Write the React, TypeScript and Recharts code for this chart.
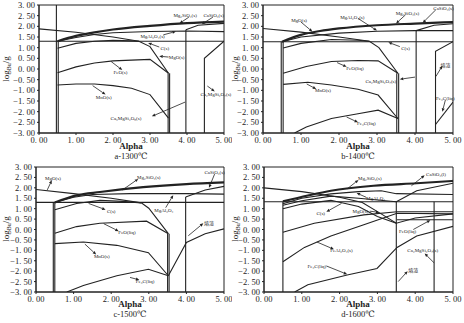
import React from 'react';
import { LineChart, Line, XAxis, YAxis, ReferenceArea, ReferenceLine, ReferenceDot } from 'recharts';

type P = [number, number][];
// [text, labelX, labelY, fromX, fromY, toX, toY]
type Note = [string, number, number, number, number, number, number];

const INK = '#222';
const SERIF = '"Liberation Serif", "DejaVu Serif", "Noto Sans CJK SC", serif';

const xTicks = [0, 1, 2, 3, 4, 5];
const yTicks = [-3, -2.5, -2, -1.5, -1, -0.5, 0, 0.5, 1, 1.5, 2, 2.5, 3];

// ---- a - 1300
const aH13: P = [[0, 1.3], [5, 1.3]];
const aMgO: P = [[0, 1.88], [1, 1.72], [2, 1.5], [2.7, 1.3], [3, 1.05], [3.5, -0.2]];
const aC: P = [[0.5, 0.97], [1, 1.2], [1.5, 1.3], [2, 1.35], [2.5, 1.32], [2.7, 1.3]];
const aMg2SiO4: P = [[0.5, 1.3], [1, 1.55], [1.5, 1.72], [2, 1.85], [3, 2.02], [4, 2.15], [5, 2.22]];
const aMgAl2O4: P = [[0.5, 1.3], [1, 1.48], [1.5, 1.62], [2, 1.7], [3, 1.76], [4, 1.78], [5, 1.75]];
const aCaSiO3: P = [[3.97, 1.84], [4.3, 2.05], [5, 2.14]];
const aV05: P = [[0.47, 3], [0.47, -3]];
const aV05b: P = [[0.52, 1.3], [0.52, -3]];
const aFeO: P = [[0.5, -0.18], [1, 0.1], [1.5, 0.28], [2, 0.38], [3, 0.45], [3.5, -0.2]];
const aMnO: P = [[0.5, -0.75], [1, -0.7], [1.5, -0.7], [2, -0.78], [2.5, -0.9], [3, -1.2], [3.5, -2.3]];
const aV35: P = [[3.49, -0.2], [3.49, -3]];
const aV35b: P = [[3.53, -0.2], [3.53, -3]];
const aV40: P = [[3.97, 1.84], [3.97, -3]];
const aCa2: P = [[4.47, -3], [4.47, 0.5], [5, 1.3]];
const aNotes: Note[] = [
  ['Mg₂SiO₄(s)', 3.95, 2.52, 4.05, 2.43, 3.8, 2.14],
  ['CaSiO₃(s)', 4.72, 2.52, 4.7, 2.43, 4.4, 2.1],
  ['MgAl₂O₄(s)', 3.07, 1.57, 3.36, 1.6, 3.7, 1.76],
  ['C(s)', 3.4, 0.98, 3.25, 1.03, 2.95, 1.22],
  ['MgO(s)', 3.72, 0.55, 3.5, 0.56, 3.25, 0.6],
  ['FeO(s)', 2.2, -0.15, 1.95, 0.35, 2.25, -0.05],
  ['MnO(s)', 1.75, -1.3, 1.45, -0.78, 1.8, -1.2],
  ['Ca₃MgSi₂O₈(s)', 2.35, -2.3, 3.95, -1.55, 3.05, -2.22],
  ['Ca₂MgSi₂O₇(s)', 4.78, -1.15, 4.55, -0.8, 4.75, -1.05],
];

// ---- b - 1400
const bH13: P = [[0, 1.28], [5, 1.28]];
const bMgO: P = [[0, 1.9], [1, 1.73], [2, 1.5], [2.8, 1.3], [3.05, 1.0], [3.55, -0.2]];
const bC: P = [[0.53, 0.98], [1, 1.2], [1.8, 1.38], [2.5, 1.35], [2.8, 1.3]];
const bMg2SiO4: P = [[0.5, 1.28], [1, 1.6], [1.5, 1.78], [2, 1.9], [3, 2.05], [4, 2.13], [5, 2.2]];
const bMgAl2O4: P = [[0.5, 1.28], [1, 1.5], [2, 1.68], [3, 1.77], [4, 1.8], [5, 1.8]];
const bCaSiO3: P = [[4.03, 1.8], [4.5, 2.05], [5, 2.12]];
const bV05: P = [[0.48, 1.28], [0.48, -3]];
const bV05b: P = [[0.53, 1.28], [0.53, -3]];
const bFeO: P = [[0.53, -0.2], [1.14, 0.12], [1.8, 0.35], [2.5, 0.4], [3.03, 0.38], [3.55, -0.2]];
const bMnO: P = [[0.53, -0.72], [1.18, -0.62], [1.8, -0.75], [2.5, -0.95], [3.03, -1.22], [3.55, -2.32]];
const bFe3C: P = [[0.83, -3], [1.14, -2.72], [1.8, -2.32], [2.5, -2.1], [3.03, -1.93], [3.55, -2.32]];
const bV35: P = [[3.52, -0.2], [3.52, -3]];
const bV35b: P = [[3.57, -0.2], [3.57, -3]];
const bV40: P = [[4.03, 1.8], [4.03, -3]];
const bV45: P = [[4.54, -3], [4.54, 0.83], [5, 1.28]];
const bFe3Cr: P = [[4.54, -2.6], [5, -1.55]];
const bNotes: Note[] = [
  ['MgO(s)', 0.95, 2.28, 1.0, 2.2, 1.3, 1.75],
  ['MgAl₂O₄(s)', 2.35, 2.45, 2.5, 2.37, 3.0, 1.8],
  ['Mg₂SiO₄(s)', 3.8, 2.62, 3.75, 2.54, 3.5, 2.13],
  ['CaSiO₃(s)', 4.75, 2.85, 4.55, 2.78, 4.2, 2.16],
  ['C(s)', 3.75, 0.98, 3.6, 1.05, 3.3, 1.25],
  ['FeO(liq)', 2.42, 0.05, 1.95, 0.3, 2.2, 0.1],
  ['Ca₂MgSi₂O₇(s)', 3.1, -0.55, 4.0, -0.38, 3.6, -0.48],
  ['MnO(s)', 1.58, -0.98, 1.15, -0.7, 1.4, -0.94],
  ['Fe₃C(liq)', 2.72, -2.55, 2.2, -2.25, 2.5, -2.5],
  ['熔渣', 4.8, 0.2, 4.55, -0.35, 4.72, 0.15],
  ['Fe₃C(liq)', 4.8, -1.35, 4.8, -1.45, 4.72, -2.0],
];

// ---- c - 1500
const cH13: P = [[0, 1.3], [5, 1.3]];
const cMgO: P = [[0, 1.92], [1, 1.72], [2, 1.5], [2.8, 1.28], [3.0, 1.02], [3.52, -0.2]];
const cC: P = [[0.5, 0.95], [1.08, 1.25], [1.7, 1.4], [2.3, 1.35], [2.8, 1.28]];
const cMg2SiO4: P = [[0.5, 1.3], [1.08, 1.64], [1.7, 1.8], [2.85, 2.03], [4, 2.18], [5, 2.26]];
const cMgAl2O4: P = [[0.5, 1.3], [1, 1.55], [1.5, 1.68], [2.5, 1.72], [4, 1.72], [5, 1.7]];
const cCaSiO3: P = [[3.98, 1.56], [4.5, 1.9], [5, 2.07]];
const cV05: P = [[0.46, 1.3], [0.46, -3]];
const cV05b: P = [[0.5, 1.3], [0.5, -3]];
const cFeO: P = [[0.5, -0.18], [1.08, 0.14], [1.7, 0.3], [2.94, 0.4], [3.52, -0.2]];
const cMnO: P = [[0.5, -0.68], [1.26, -0.6], [2.15, -0.76], [2.99, -1.11], [3.52, -2.22]];
const cFe3C: P = [[0.82, -3], [1.26, -2.69], [2.15, -2.22], [2.99, -1.91], [3.52, -2.22]];
const cV35: P = [[3.5, -0.2], [3.5, -3]];
const cV35b: P = [[3.54, -0.2], [3.54, -3]];
const cV40: P = [[3.98, 1.56], [3.98, -3]];
const cSlag: P = [[3.52, -2.22], [4.0, -0.62], [4.5, -0.2], [5, 0.03]];
const cNotes: Note[] = [
  ['MgO(s)', 0.45, 2.48, 0.3, 1.9, 0.42, 2.36],
  ['Mg₂SiO₄(s)', 3.0, 2.5, 2.3, 1.9, 2.72, 2.43],
  ['CaSiO₃(s)', 4.75, 2.75, 4.75, 2.66, 4.6, 2.0],
  ['C(s)', 2.0, 0.9, 1.4, 1.25, 1.85, 0.95],
  ['MgAl₂O₄', 3.4, 0.93, 3.45, 1.05, 3.65, 1.65],
  ['FeO(liq)', 2.42, -0.12, 1.8, 0.28, 2.2, -0.08],
  ['MnO(s)', 1.75, -1.28, 1.3, -0.7, 1.6, -1.2],
  ['Fe₃C(liq)', 2.9, -2.45, 2.5, -2.3, 2.75, -2.42],
  ['熔渣', 4.6, 0.33, 4.05, -0.3, 4.45, 0.3],
];

// ---- d - 1600
const dH13: P = [[0, 1.33], [5, 1.33]];
const dMgO: P = [[0, 2.0], [1, 1.82], [2, 1.55], [2.6, 1.3], [3.1, 0.75], [3.5, 0.3], [4, 0.55], [5, 0.75]];
const dC: P = [[0.5, 1.0], [1, 1.22], [1.77, 1.4], [2.5, 1.1], [3.0, 0.62], [3.5, 0.3]];
const dMg2SiO4: P = [[0.5, 1.35], [1.16, 1.63], [1.77, 1.86], [2.9, 2.1], [4.04, 2.22], [5, 2.33]];
const dMgAl2O4: P = [[0.5, 1.24], [1, 1.5], [1.77, 1.71], [2.5, 1.82], [3.1, 1.86], [3.5, 1.72], [5, 1.68]];
const dSpinel: P = [[0.5, 1.16], [1, 1.38], [1.77, 1.6], [2.5, 1.5], [3.5, 1.33]];
const dCaSiO3: P = [[3.5, 1.33], [4.04, 1.86], [5, 2.22]];
const dFeO: P = [[0.5, -0.13], [1.33, 0.3], [2.64, 0.7], [3.52, 0.85], [5, 0.85]];
const dFeAl2O4: P = [[0.5, -1.55], [1.07, -0.86], [1.77, -0.31], [2.64, 0.23], [3.52, 0.78], [5, 0.75]];
const dFe3C: P = [[0.81, -3], [1.16, -2.65], [2.2, -2.18], [2.99, -1.87], [3.52, -0.86], [4.04, -0.31], [5, 0.15]];
const dLow: P = [[3.52, 0.47], [5, 0.47]];
const dV05: P = [[0.5, 1.33], [0.5, -3]];
const dV35: P = [[3.5, 1.33], [3.5, -3]];
const dV45: P = [[4.5, 1.33], [4.5, -3]];
const dNotes: Note[] = [
  ['Mg₂SiO₄(s)', 2.8, 2.45, 2.2, 1.95, 2.5, 2.38],
  ['CaSiO₃(l)', 4.55, 2.65, 3.9, 2.1, 4.25, 2.6],
  ['MgAl₂O₄', 2.95, 1.52, 2.7, 1.55, 2.45, 1.75],
  ['C(s)', 1.5, 0.8, 2.05, 1.25, 1.65, 0.85],
  ['MgO(s)', 2.55, 0.87, 2.8, 0.88, 3.05, 0.82],
  ['FeO(liq)', 3.8, -0.08, 3.95, 0.0, 4.4, 0.45],
  ['FeAl₂O₄(s)', 2.05, -1.0, 1.4, -0.6, 1.85, -0.95],
  ['Fe₃C(liq)', 1.4, -1.75, 1.65, -1.75, 2.2, -2.15],
  ['Ca₂MgSi₂O₇(s)', 4.2, -1.0, 4.5, -1.6, 4.25, -1.15],
  ['熔渣', 3.95, -1.95, 3.55, -2.5, 3.8, -2.0],
];

const fmt = (v: number) => (v < 0 ? '−' : '') + Math.abs(v).toFixed(2).replace('.', '. ');
const toPts = (p: P) => p.map(([x, y]) => ({ x, y }));

const YTick = (p: any) => (
  <text x={p.x} y={p.y} dy={3} textAnchor="end" fontSize={8.5} fontFamily={SERIF} fill={INK}>
    {fmt(p.payload.value)}
  </text>
);

const XTick = (p: any) => (
  <text x={p.x} y={p.y} dy={6} textAnchor="middle" fontSize={8.5} fontFamily={SERIF} fill={INK}>
    {fmt(p.payload.value)}
  </text>
);

const ArrowShape = (p: any) => {
  const { x1, y1, x2, y2 } = p;
  const a = Math.atan2(y2 - y1, x2 - x1);
  const L = 3.5;
  const W = 1.5;
  const bx = x2 - L * Math.cos(a);
  const by = y2 - L * Math.sin(a);
  const pts = `${x2},${y2} ${bx - W * Math.sin(a)},${by + W * Math.cos(a)} ${bx + W * Math.sin(a)},${by - W * Math.cos(a)}`;
  return (
    <g>
      <line x1={x1} y1={y1} x2={bx} y2={by} stroke={INK} strokeWidth={0.8} />
      <polygon points={pts} fill={INK} />
    </g>
  );
};

interface PanelProps {
  left: number;
  top: number;
  margin: { top: number; right: number; left: number; bottom: number };
  lines: P[];
  thick: P[];
  notes: Note[];
}

const Panel = ({ left, top, margin, lines, thick, notes }: PanelProps) => (
  <div style={{ position: 'absolute', left, top }}>
    <LineChart width={232} height={161} margin={margin}>
      <XAxis
        type="number"
        dataKey="x"
        domain={[0, 5]}
        ticks={xTicks}
        interval={0}
        allowDataOverflow
        height={14}
        tickSize={2}
        stroke={INK}
        tick={<XTick />}
      />
      <YAxis
        type="number"
        domain={[-3, 3]}
        ticks={yTicks}
        interval={0}
        allowDataOverflow
        width={30}
        tickSize={2}
        stroke={INK}
        tick={<YTick />}
      />
      <ReferenceArea x1={0} x2={5} y1={-3} y2={3} fill="none" stroke={INK} strokeWidth={1} />
      {lines.map((p, i) => (
        <Line key={'l' + i} data={toPts(p)} dataKey="y" type="linear" dot={false} stroke={INK} strokeWidth={1.1} isAnimationActive={false} />
      ))}
      {thick.map((p, i) => (
        <Line key={'t' + i} data={toPts(p)} dataKey="y" type="monotone" dot={false} stroke={INK} strokeWidth={2.2} isAnimationActive={false} />
      ))}
      {notes.map((n, i) => (
        <ReferenceLine key={'a' + i} segment={[{ x: n[3], y: n[4] }, { x: n[5], y: n[6] }]} ifOverflow="visible" shape={ArrowShape} />
      ))}
      {notes.map((n, i) => (
        <ReferenceDot
          key={'n' + i}
          x={n[1]}
          y={n[2]}
          r={0}
          ifOverflow="visible"
          shape={(p: any) => (
            <text x={p.cx} y={p.cy} dy={2} textAnchor="middle" fontSize={5} fontFamily={SERIF} fill={INK}>
              {n[0]}
            </text>
          )}
        />
      ))}
    </LineChart>
  </div>
);

const captions = [
  { x: 131, y: 149, cap: 'a-1300℃', lx: 9, ly: 69 },
  { x: 358, y: 149, cap: 'b-1400℃', lx: 238, ly: 69 },
  { x: 130, y: 307, cap: 'c-1500℃', lx: 9, ly: 229 },
  { x: 358, y: 307, cap: 'd-1600℃', lx: 238, ly: 229 },
];

export default function App() {
  return (
    <div style={{ position: 'absolute', left: 0, top: 0, width: 464, height: 323, background: '#fff', overflow: 'hidden' }}>
      <Panel
        left={0}
        top={0}
        margin={{ top: 5, right: 8, left: 9, bottom: 14 }}
        lines={[aH13, aMgO, aC, aMgAl2O4, aCaSiO3, aV05, aV05b, aFeO, aMnO, aV35, aV35b, aV40, aCa2]}
        thick={[aMg2SiO4]}
        notes={aNotes}
      />
      <Panel
        left={232}
        top={0}
        margin={{ top: 5, right: 11, left: 1, bottom: 14 }}
        lines={[bH13, bMgO, bC, bMgAl2O4, bCaSiO3, bV05, bV05b, bFeO, bMnO, bFe3C, bV35, bV35b, bV40, bV45, bFe3Cr]}
        thick={[bMg2SiO4]}
        notes={bNotes}
      />
      <Panel
        left={0}
        top={161}
        margin={{ top: 6, right: 8, left: 6, bottom: 16 }}
        lines={[cH13, cMgO, cC, cMgAl2O4, cCaSiO3, cV05, cV05b, cFeO, cMnO, cFe3C, cV35, cV35b, cV40, cSlag]}
        thick={[cMg2SiO4]}
        notes={cNotes}
      />
      <Panel
        left={232}
        top={161}
        margin={{ top: 6, right: 11, left: 2, bottom: 16 }}
        lines={[dH13, dMgO, dC, dMgAl2O4, dSpinel, dCaSiO3, dFeO, dFeAl2O4, dFe3C, dLow, dV05, dV35, dV45]}
        thick={[dMg2SiO4]}
        notes={dNotes}
      />
      <svg width={464} height={323} style={{ position: 'absolute', left: 0, top: 0, pointerEvents: 'none' }}>
        {captions.map((c) => (
          <g key={c.cap} fontFamily={SERIF} fill={INK}>
            <text x={c.x} y={c.y} textAnchor="middle" fontSize={9} fontWeight="bold">Alpha</text>
            <text x={c.x} y={c.y + 10} textAnchor="middle" fontSize={8.5}>{c.cap}</text>
            <text x={c.lx} y={c.ly} textAnchor="middle" fontSize={9} transform={`rotate(-90 ${c.lx} ${c.ly})`}>
              log<tspan fontSize={6} dy={2}>Bu</tspan><tspan dy={-2}>/g</tspan>
            </text>
          </g>
        ))}
      </svg>
    </div>
  );
}
